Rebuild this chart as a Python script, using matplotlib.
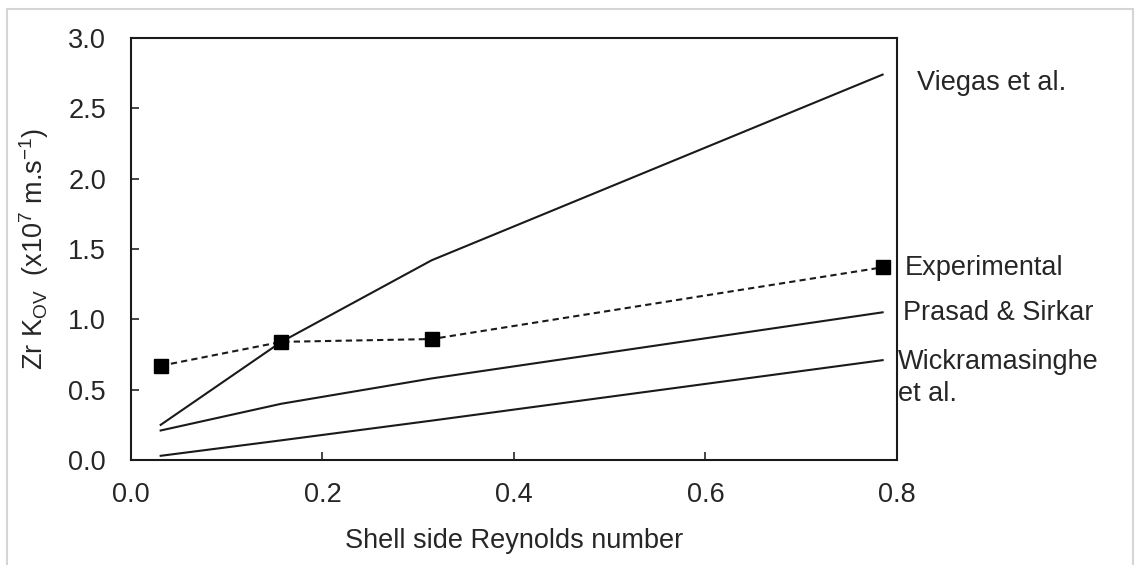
import matplotlib
matplotlib.use("Agg")
import matplotlib.pyplot as plt
from matplotlib.patches import Rectangle

plt.rcParams['font.family'] = ['Liberation Sans', 'DejaVu Sans']
plt.rcParams['mathtext.fontset'] = 'custom'
plt.rcParams['mathtext.rm'] = 'Liberation Sans'

# shell side Reynolds numbers of the runs
reynolds = [0.031, 0.157, 0.314, 0.785]

# Zr K_OV (x10^7 m/s)
experimental = [0.67, 0.84, 0.86, 1.37]
viegas = [0.25, 0.84, 1.42, 2.74]
prasad = [0.21, 0.40, 0.58, 1.05]
wickram = [0.03, 0.14, 0.28, 0.71]

names = ['Viegas et al.', 'Experimental', 'Prasad & Sirkar', 'Wickramasinghe\net al.']
label_offsets = [(34, -8), (22, -1), (20, -1), (15, -18)]

fig = plt.figure(figsize=(11.37, 5.65), dpi=100)
ax = fig.add_axes([0.1152, 0.1858, 0.6737, 0.7469])

fs = 19.5
lc = '#1a1a1a'
tc = '#262626'

ax.plot(reynolds, viegas, color=lc, lw=1.5)
ax.plot(reynolds, prasad, color=lc, lw=1.5)
ax.plot(reynolds, wickram, color=lc, lw=1.5)
ax.plot(reynolds, experimental, color=lc, lw=1.5, ls=(0, (3, 2)),
        marker='s', markersize=10, markerfacecolor='black', markeredgecolor='black')

series = [viegas, experimental, prasad, wickram]
for name, ys, off in zip(names, series, label_offsets):
    ax.annotate(name, xy=(reynolds[-1], ys[-1]), xytext=off,
                textcoords='offset pixels', ha='left', va='center',
                fontsize=fs, color=tc, linespacing=1.3,
                annotation_clip=False)

ax.set_xlim(0, 0.8)
ax.set_ylim(0, 3.0)
ax.set_xticks([0.0, 0.2, 0.4, 0.6, 0.8])
ax.set_yticks([0.0, 0.5, 1.0, 1.5, 2.0, 2.5, 3.0])
ax.xaxis.set_major_formatter(matplotlib.ticker.FormatStrFormatter('%.1f'))
ax.yaxis.set_major_formatter(matplotlib.ticker.FormatStrFormatter('%.1f'))
ax.tick_params(axis='x', direction='in', length=6, width=1.2, pad=16,
               labelsize=fs, colors=tc)
ax.tick_params(axis='y', direction='in', length=6, width=1.2, pad=18,
               labelsize=fs, colors=tc)
for sp in ax.spines.values():
    sp.set_linewidth(1.5)
    sp.set_color(lc)

ax.set_xlabel('Shell side Reynolds number', fontsize=fs, color=tc, labelpad=14)
ax.set_ylabel(r'Zr K$_{\mathregular{OV}}$  (x10$^{\mathregular{7}}$ m.s$^{\mathregular{-1}}$)',
              fontsize=fs, color=tc, labelpad=12)

# light frame around the chart area
fig.patches.append(Rectangle((7 / 1137, -0.01), 1126 / 1137, 1 - 9 / 565 + 0.01,
                             transform=fig.transFigure, fill=False,
                             edgecolor='#d5d5d5', lw=1.5))

fig.savefig('out.png', dpi=100)
